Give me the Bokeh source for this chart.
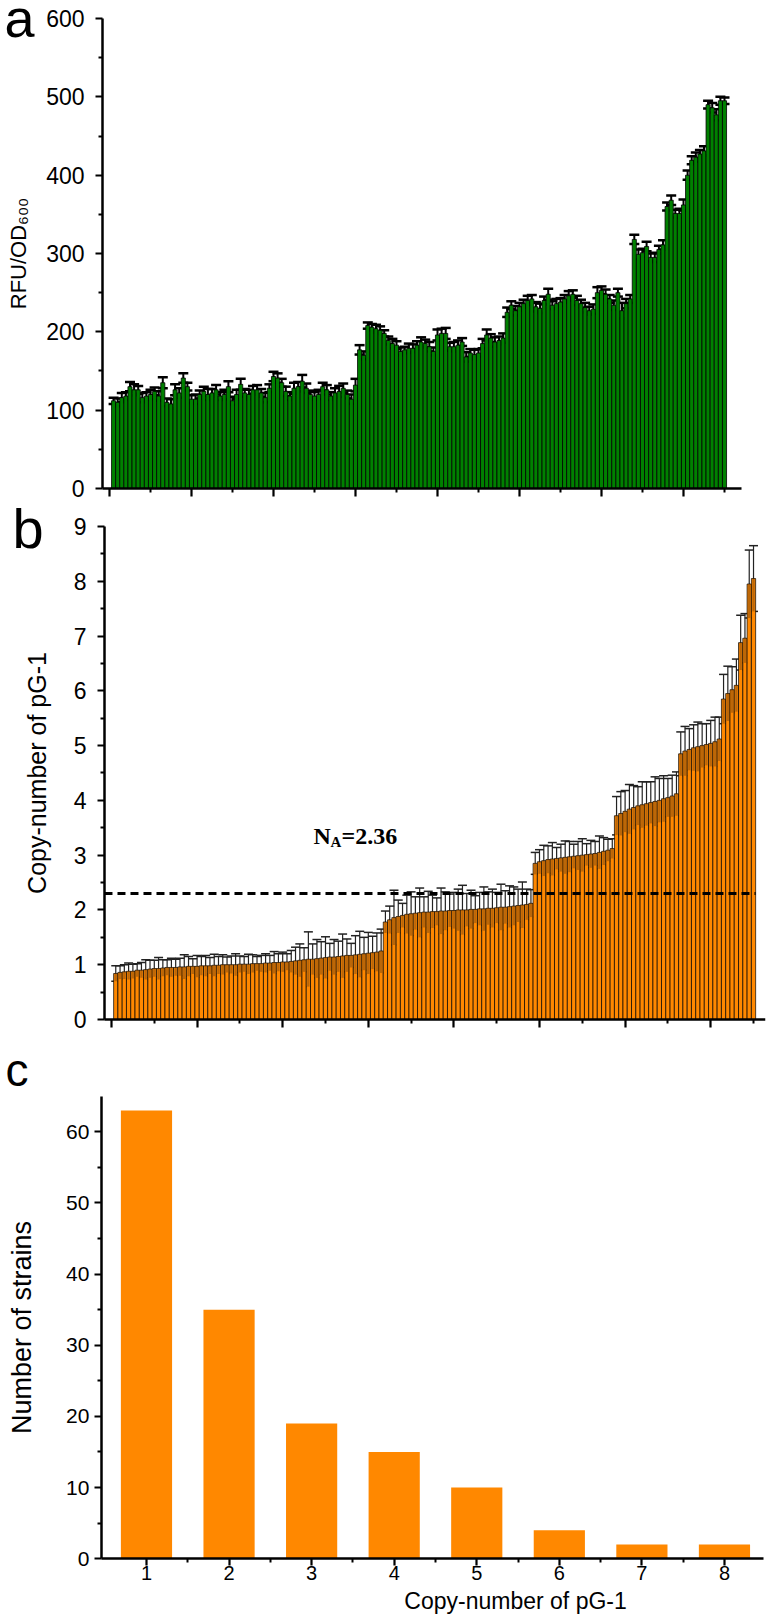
from bokeh.plotting import figure
from bokeh.layouts import column
from bokeh.models import (ColumnDataSource, Whisker, TeeHead, FixedTicker, Label, Range1d,
                          LinearAxis)
from bokeh.embed import file_html
from bokeh.resources import INLINE

# ---------------- data ----------------
rfu_od600 = [
    112, 110, 116, 118, 130, 126, 126, 116, 118, 120,
    124, 118, 135, 110, 108, 126, 122, 141, 130, 114,
    114, 120, 124, 120, 122, 126, 118, 120, 130, 112,
    120, 133, 122, 120, 126, 126, 122, 116, 128, 143,
    141, 135, 124, 118, 128, 130, 137, 128, 120, 118,
    120, 130, 126, 118, 122, 124, 128, 120, 114, 132,
    177, 170, 208, 206, 204, 202, 198, 189, 185, 183,
    175, 177, 179, 179, 183, 187, 185, 181, 175, 196,
    198, 198, 181, 181, 183, 187, 168, 173, 171, 173,
    185, 196, 192, 187, 189, 192, 225, 234, 227, 232,
    236, 240, 242, 232, 230, 240, 248, 234, 236, 238,
    242, 246, 248, 240, 236, 231, 227, 229, 250, 253,
    248, 242, 234, 250, 227, 236, 242, 318, 299, 301,
    309, 295, 295, 305, 311, 360, 368, 351, 351, 362,
    400, 419, 423, 427, 431, 490, 486, 477, 495, 495]

rfu_od600_err = [
    4, 5, 6, 5, 6, 7, 5, 6, 5, 6,
    5, 6, 7, 5, 6, 7, 6, 6, 5, 5,
    6, 5, 6, 7, 5, 6, 5, 6, 7, 5,
    6, 7, 5, 6, 5, 6, 5, 6, 5, 6,
    6, 5, 6, 5, 7, 6, 8, 6, 5, 5,
    6, 5, 6, 5, 6, 7, 6, 5, 6, 8,
    6, 5, 4, 4, 5, 5, 4, 5, 6, 5,
    5, 4, 6, 5, 5, 6, 5, 6, 5, 7,
    6, 7, 5, 6, 6, 5, 6, 5, 6, 5,
    6, 7, 5, 6, 5, 6, 6, 5, 6, 5,
    5, 6, 5, 6, 6, 5, 7, 5, 6, 5,
    5, 6, 5, 6, 5, 6, 5, 6, 7, 5,
    6, 5, 6, 5, 10, 6, 5, 6, 6, 5,
    6, 5, 6, 5, 6, 5, 6, 5, 6, 7,
    6, 5, 6, 5, 6, 5, 6, 7, 5, 4]

copy_number = [
    0.84, 0.86, 0.87, 0.88, 0.88, 0.90, 0.90, 0.91, 0.92, 0.93,
    0.93, 0.94, 0.95, 0.95, 0.95, 0.96, 0.96, 0.97, 0.97, 0.97,
    0.98, 0.98, 0.98, 0.99, 0.99, 1.00, 1.00, 1.00, 1.00, 1.01,
    1.01, 1.01, 1.02, 1.02, 1.02, 1.03, 1.03, 1.04, 1.04, 1.05,
    1.05, 1.06, 1.07, 1.08, 1.09, 1.10, 1.10, 1.11, 1.12, 1.13,
    1.14, 1.14, 1.15, 1.16, 1.17, 1.17, 1.18, 1.19, 1.20, 1.21,
    1.22, 1.23, 1.25,
    1.78, 1.82, 1.86, 1.88, 1.90, 1.92, 1.93, 1.94, 1.95, 1.96,
    1.96, 1.97, 1.97, 1.98, 1.98, 1.99, 1.99, 2.00, 2.00, 2.00,
    2.01, 2.01, 2.02, 2.02, 2.03, 2.03, 2.04, 2.05, 2.05, 2.06,
    2.07, 2.08, 2.09, 2.10, 2.12,
    2.85, 2.88, 2.90, 2.92, 2.93, 2.94, 2.95, 2.96, 2.97, 2.98,
    2.99, 3.00, 3.01, 3.02, 3.03, 3.05, 3.07, 3.09, 3.12,
    3.72, 3.76, 3.80, 3.84, 3.87, 3.90, 3.92, 3.94, 3.96, 3.98,
    4.00, 4.03, 4.05, 4.08, 4.12,
    4.85, 4.90, 4.93, 4.96, 4.98, 5.00, 5.02, 5.04, 5.07, 5.12,
    5.85, 5.95, 6.02, 6.10,
    6.88, 6.96,
    7.95, 8.05]

copy_number_err = [
    0.14, 0.12, 0.13, 0.15, 0.13, 0.12, 0.14, 0.18, 0.16, 0.15,
    0.20, 0.15, 0.14, 0.17, 0.15, 0.16, 0.22, 0.18, 0.14, 0.20,
    0.17, 0.19, 0.15, 0.20, 0.16, 0.18, 0.14, 0.16, 0.20, 0.15,
    0.14, 0.18, 0.16, 0.13, 0.15, 0.17, 0.14, 0.20, 0.16, 0.18,
    0.15, 0.20, 0.25, 0.30, 0.22, 0.50, 0.28, 0.35, 0.30, 0.38,
    0.25, 0.32, 0.28, 0.40, 0.30, 0.22, 0.35, 0.42, 0.30, 0.38,
    0.30, 0.35, 0.40,
    0.20, 0.25, 0.50, 0.30, 0.22, 0.35, 0.40, 0.30, 0.45, 0.28,
    0.38, 0.30, 0.25, 0.42, 0.35, 0.30, 0.33, 0.38, 0.45, 0.30,
    0.35, 0.25, 0.30, 0.40, 0.30, 0.35, 0.28, 0.42, 0.30, 0.38,
    0.35, 0.30, 0.42, 0.28, 0.25,
    0.20, 0.22, 0.28, 0.25, 0.30, 0.20, 0.25, 0.30, 0.28, 0.22,
    0.26, 0.30, 0.20, 0.25, 0.22, 0.30, 0.25, 0.20, 0.18,
    0.35, 0.40, 0.38, 0.45, 0.40, 0.35, 0.42, 0.40, 0.38, 0.45,
    0.40, 0.42, 0.35, 0.38, 0.40,
    0.40, 0.45, 0.38, 0.42, 0.45, 0.40, 0.38, 0.42, 0.45, 0.40,
    0.45, 0.50, 0.42, 0.48,
    0.50, 0.45,
    0.62, 0.60]

na_line_value = 2.3
na_value_text = "2.36"

copy_levels = [1, 2, 3, 4, 5, 6, 7, 8]
strain_counts = [63, 35, 19, 15, 10, 4, 2, 2]

panel_letters = ["a", "b", "c"]
ylabel_a = "RFU/OD\u2086\u2080\u2080"
ylabel_b = "Copy-number of pG-1"
ylabel_c = "Number of strains"
xlabel_c = "Copy-number of pG-1"

strain_index = list(range(1, len(rfu_od600) + 1))

# ---------------- style ----------------
FONT = "Liberation Sans"
SERIF = "Liberation Serif"
GREEN = "#008000"
ORANGE = "#FF8800"
W = 770
MID = 0.3465  # labels are drawn centred on their anchor: half the em box


def style_axes(p, tick_size, label_size):
    p.outline_line_color = None
    p.grid.visible = False
    for ax in p.axis:
        ax.axis_line_width = 2.5
        ax.axis_line_color = "black"
        ax.major_tick_line_width = 2.2
        ax.minor_tick_line_width = 2
        ax.major_tick_line_color = "black"
        ax.minor_tick_line_color = "black"
        ax.major_tick_in = 0
        ax.minor_tick_in = 0
        ax.major_tick_out = 7
        ax.minor_tick_out = 4
        ax.major_label_text_font = FONT
        ax.major_label_text_font_size = tick_size
        ax.major_label_text_color = "black"
        ax.axis_label_text_font = FONT
        ax.axis_label_text_font_size = label_size
        ax.axis_label_text_font_style = "normal"
        ax.axis_label_text_color = "black"


def hide_x_labels(p, ticks):
    p.xaxis.major_label_overrides = {t: "" for t in ticks}
    p.xaxis.major_label_text_font_size = "1px"
    p.xaxis.major_label_standoff = 0
    p.xaxis.major_tick_out = 8


def page_to_data(px, py, g):
    x0, x1 = g["xr"]
    y0, y1 = g["yr"]
    x = x0 + (px - g["fl"]) / g["fw"] * (x1 - x0)
    y = y1 - (py - g["ft"]) / g["fh"] * (y1 - y0)
    return x, y


def letter(p, g, px, py, txt, size):
    # (px, py): page position of the left end of the letter's baseline
    x, y = page_to_data(px, py - MID * size, g)
    p.add_layout(Label(x=x, y=y, text=txt, text_font=FONT, text_font_size=f"{size}px",
                       text_align="left", text_baseline="alphabetic", text_color="black"))


x_major = [0, 20, 40, 60, 80, 100, 120, 140]
x_minor = [10, 30, 50, 70, 90, 110, 130, 150]

# Frames span the whole figure width; axes are pinned (fixed_location) at their data
# positions and limited with bounds, so the panel letters can sit inside the frames.

# ---------------- panel a ----------------
HA = 501
ga = dict(fl=0, fw=765, ft=2, fh=499, xr=(-26.585, 160.0), yr=(-16.60, 620.43))
axis_x_a = -1.707
axis_end_a = 154.15
src_a = ColumnDataSource(dict(
    x=strain_index, v=rfu_od600,
    upper=[v + e for v, e in zip(rfu_od600, rfu_od600_err)],
    lower=[v - e for v, e in zip(rfu_od600, rfu_od600_err)]))

pa = figure(width=W, height=HA, output_backend="svg", toolbar_location=None,
            x_range=Range1d(*ga["xr"]), y_range=Range1d(*ga["yr"]),
            min_border_left=0, min_border_right=5, min_border_top=2, min_border_bottom=0)
pa.vbar(x="x", top="v", bottom=0, width=1.0, source=src_a,
        fill_color=GREEN, line_color="black", line_width=0.8)
pa.add_layout(Whisker(source=src_a, base="x", upper="upper", lower="lower",
                      line_color="black", line_width=2,
                      upper_head=TeeHead(size=10, line_color="black", line_width=2.5),
                      lower_head=TeeHead(size=10, line_color="black", line_width=2.5)))
style_axes(pa, "23px", "22px")
pa.yaxis.fixed_location = axis_x_a
pa.xaxis.fixed_location = 0
pa.yaxis.bounds = (0, 600)
pa.xaxis.bounds = (axis_x_a, axis_end_a)
pa.yaxis.ticker = FixedTicker(ticks=[0, 100, 200, 300, 400, 500, 600],
                              minor_ticks=[50, 150, 250, 350, 450, 550])
pa.xaxis.ticker = FixedTicker(ticks=x_major, minor_ticks=x_minor)
hide_x_labels(pa, x_major)
pa.yaxis.major_label_standoff = 11
pa.yaxis.axis_label = ylabel_a
pa.yaxis.axis_label_standoff = 12
letter(pa, ga, 4, 36, panel_letters[0], 54)

# ---------------- panel b ----------------
HB = 539
gb = dict(fl=0, fw=765, ft=503, fh=537, xr=(-25.93, 152.8), yr=(-0.3834, 9.4199))
axis_x_b = -1.636
src_b = ColumnDataSource(dict(
    x=strain_index, v=copy_number,
    upper=[v + e for v, e in zip(copy_number, copy_number_err)],
    lower=[v - e for v, e in zip(copy_number, copy_number_err)]))

pb = figure(width=W, height=HB, output_backend="svg", toolbar_location=None,
            x_range=Range1d(*gb["xr"]), y_range=Range1d(*gb["yr"]),
            min_border_left=0, min_border_right=5, min_border_top=2, min_border_bottom=0)
pb.vbar(x="x", top="v", bottom=0, width=1.0, source=src_b,
        fill_color=ORANGE, line_color="black", line_width=0.7)
pb.vbar(x="x", top="v", bottom="lower", width=0.55, source=src_b,
        fill_color="#7a4510", fill_alpha=0.5, line_color=None)
pb.add_layout(Whisker(source=src_b, base="x", upper="upper", lower="lower",
                      line_color="#222222", line_width=1.2,
                      upper_head=TeeHead(size=9, line_color="#222222", line_width=1.5),
                      lower_head=TeeHead(size=9, line_color="#222222", line_width=1.5)))
pb.segment(x0=[axis_x_b], x1=[strain_index[-1] + 0.5], y0=[na_line_value],
           y1=[na_line_value], line_color="black", line_width=3, line_dash="8 5")
style_axes(pb, "23px", "25px")
pb.yaxis.fixed_location = axis_x_b
pb.xaxis.fixed_location = 0
pb.yaxis.bounds = (0, 9)
pb.xaxis.bounds = (axis_x_b, gb["xr"][1])
pb.yaxis.ticker = FixedTicker(ticks=list(range(0, 10)),
                              minor_ticks=[0.5, 1.5, 2.5, 3.5, 4.5, 5.5, 6.5, 7.5, 8.5])
pb.xaxis.ticker = FixedTicker(ticks=x_major, minor_ticks=x_minor)
hide_x_labels(pb, x_major)
pb.yaxis.major_label_standoff = 11
pb.yaxis.axis_label = ylabel_b
pb.yaxis.axis_label_standoff = 20
letter(pb, gb, 12, 547, panel_letters[1], 56)

nx, ny = page_to_data(313, 835, gb)
pb.add_layout(Label(x=nx, y=ny, text="N", text_font=SERIF, text_font_style="bold",
                    text_font_size="24px", text_baseline="alphabetic", text_align="left",
                    text_color="black"))
pb.add_layout(Label(x=nx, y=ny, x_offset=17, y_offset=-6, text="A", text_font=SERIF,
                    text_font_style="bold", text_font_size="15px", text_baseline="alphabetic",
                    text_align="left", text_color="black"))
pb.add_layout(Label(x=nx, y=ny, x_offset=28, text="=" + na_value_text, text_font=SERIF,
                    text_font_style="bold", text_font_size="24px", text_baseline="alphabetic",
                    text_align="left", text_color="black"))

# ---------------- panel c ----------------
HC = 576
gc = dict(fl=0, fw=765, ft=1048, fh=542, xr=(-0.768, 8.497), yr=(-4.054, 71.71))
axis_x_c = 0.455
axis_end_c = 8.472
src_c = ColumnDataSource(dict(x=copy_levels, n=strain_counts))

pc = figure(width=W, height=HC, output_backend="svg", toolbar_location=None,
            x_range=Range1d(*gc["xr"]), y_range=Range1d(*gc["yr"]),
            min_border_left=0, min_border_right=5, min_border_top=8, min_border_bottom=26)
pc.vbar(x="x", top="n", bottom=0, width=0.62, source=src_c,
        fill_color=ORANGE, line_color=None)
style_axes(pc, "20px", "27px")
pc.yaxis.fixed_location = axis_x_c
pc.xaxis.fixed_location = 0
pc.yaxis.bounds = (0, 65)
pc.xaxis.bounds = (axis_x_c, axis_end_c)
pc.yaxis.ticker = FixedTicker(ticks=[0, 10, 20, 30, 40, 50, 60],
                              minor_ticks=[5, 15, 25, 35, 45, 55])
pc.xaxis.ticker = FixedTicker(ticks=copy_levels,
                              minor_ticks=[1.5, 2.5, 3.5, 4.5, 5.5, 6.5, 7.5])
pc.yaxis.major_label_text_font_size = "21px"
pc.xaxis.major_tick_out = 7
pc.xaxis.major_label_standoff = 0
pc.yaxis.major_label_standoff = 5
pc.yaxis.axis_label = ylabel_c
pc.yaxis.axis_label_standoff = 26
letter(pc, gc, 5, 1086, panel_letters[2], 46)

# x-axis title of panel c, centred where the original centres it (right of the frame centre)
xlabel_pos = round(page_to_data(515, 0, gc)[0], 2)
pc.extra_x_ranges = {"xlabel": Range1d(*gc["xr"])}
xlab_axis = LinearAxis(x_range_name="xlabel", ticker=FixedTicker(ticks=[xlabel_pos]),
                       major_label_overrides={xlabel_pos: xlabel_c},
                       axis_line_color=None, major_tick_line_color=None,
                       minor_tick_line_color=None, major_tick_in=0, major_tick_out=0,
                       minor_tick_in=0, minor_tick_out=0, major_label_standoff=0,
                       major_label_text_font=FONT, major_label_text_font_size="23px",
                       major_label_text_color="black")
pc.add_layout(xlab_axis, "below")

layout = column(pa, pb, pc)
open("out.html", "w").write(file_html(layout, INLINE))
